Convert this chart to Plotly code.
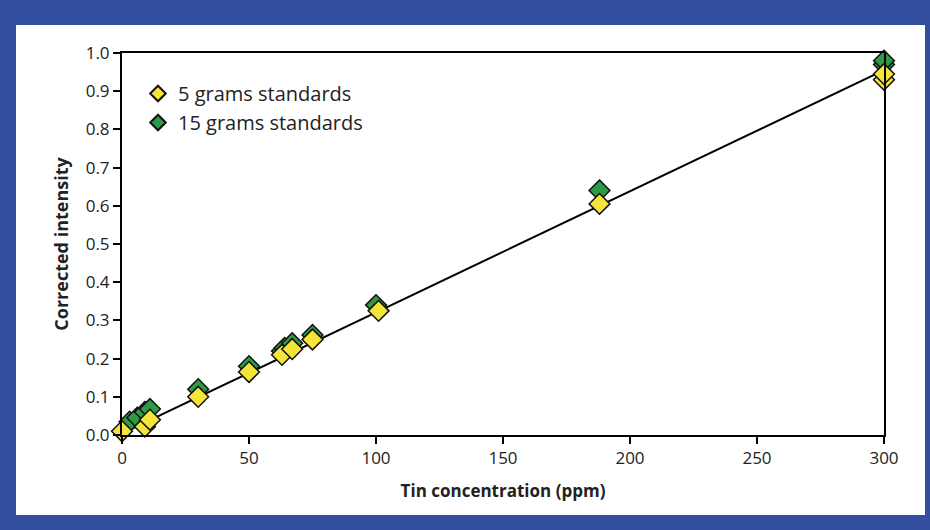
import plotly.graph_objects as go

# 5 grams standards
x5 = [0, 9, 11, 30, 50, 63, 67, 75, 101, 188, 300, 300]
y5 = [0.01, 0.022, 0.04, 0.10, 0.165, 0.21, 0.225, 0.25, 0.325, 0.605, 0.93, 0.945]

# 15 grams standards
x15 = [3, 6, 9, 11, 30, 50, 63, 64, 67, 75, 100, 188, 300, 300]
y15 = [0.035, 0.045, 0.06, 0.068, 0.12, 0.18, 0.22, 0.228, 0.24, 0.262, 0.34, 0.64, 0.97, 0.98]

# calibration line
fit_x = [0, 300]
fit_y = [0.004, 0.955]

x_ticks = [0, 50, 100, 150, 200, 250, 300]
y_ticks = [0.0, 0.1, 0.2, 0.3, 0.4, 0.5, 0.6, 0.7, 0.8, 0.9, 1.0]

FONT = "Open Sans"
BLUE = "#3350A0"

fig = go.Figure()
fig.add_trace(go.Scatter(x=fit_x, y=fit_y, mode="lines",
                         line=dict(color="black", width=2), showlegend=False,
                         cliponaxis=False))
fig.add_trace(go.Scatter(x=x15, y=y15, mode="markers", name="15 grams standards",
                         marker=dict(symbol="diamond", size=16, color="#2E9A48",
                                     line=dict(color="#111111", width=1.5)),
                         cliponaxis=False))
fig.add_trace(go.Scatter(x=x5, y=y5, mode="markers", name="5 grams standards",
                         marker=dict(symbol="diamond", size=16, color="#F5E43A",
                                     line=dict(color="#111111", width=1.5)),
                         cliponaxis=False))

L, R, T, B = 122, 46, 53, 95
W, H = 930, 530
pw, ph = W - L - R, H - T - B

def px(xp):
    return (xp - L) / pw

def py(yp):
    return (H - B - yp) / ph

fig.add_shape(type="rect", xref="paper", yref="paper",
              x0=px(16), x1=px(925), y0=py(515), y1=py(25),
              fillcolor="white", line=dict(width=0), layer="below")

fig.update_layout(
    width=W, height=H,
    margin=dict(l=L, r=R, t=T, b=B),
    paper_bgcolor=BLUE, plot_bgcolor="white",
    font=dict(family=FONT, size=16, color="#222222"),
    legend=dict(x=px(138), y=py(74), xanchor="left", yanchor="top",
                bgcolor="rgba(0,0,0,0)", font=dict(size=20, color="#222222"),
                traceorder="reversed", itemsizing="constant", tracegroupgap=0),
    showlegend=True,
)
fig.update_xaxes(range=[0, 300], tickvals=x_ticks, ticks="outside", ticklen=7,
                 tickwidth=2, tickcolor="black", showline=True, linecolor="black",
                 linewidth=2, mirror=True, showgrid=False, zeroline=False,
                 tickfont=dict(size=17),
                 title=dict(text="<b>Tin concentration (ppm)</b>", font=dict(size=17), standoff=17))
fig.update_yaxes(range=[0, 1.0], tickvals=y_ticks, tickformat=".1f", ticks="outside",
                 ticklen=7, tickwidth=2, tickcolor="black", showline=True,
                 linecolor="black", linewidth=2, mirror=True, showgrid=False,
                 zeroline=False, tickfont=dict(size=17),
                 title=dict(text="<b>Corrected intensity</b>", font=dict(size=18), standoff=12))

fig.write_html("out.html", config={"displayModeBar": False},
               post_script="document.body.style.margin='0';document.body.style.overflow='hidden';")
